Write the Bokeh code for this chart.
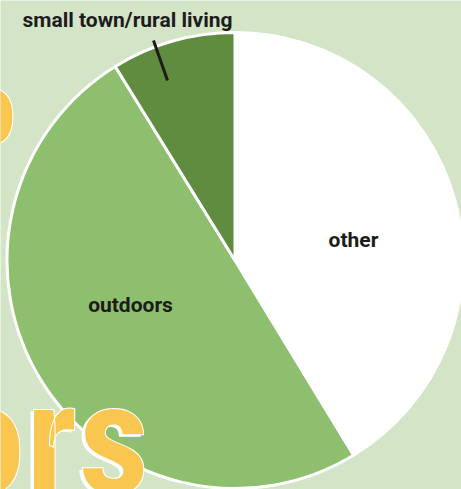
import numpy as np
from bokeh.plotting import figure
from bokeh.models import Range1d
from bokeh.core.properties import value
from bokeh.embed import file_html
from bokeh.resources import INLINE

# ---- data ----
categories = ["other", "outdoors", "small town/rural living"]
values = [41.3, 49.9, 8.8]
colors = ["#ffffff", "#8ebf6f", "#5f8c3f"]

# ---- layout constants ----
W, H = 461, 489
BG = "#d4e4c7"
YELLOW = "#f9c74f"
INK = "#1c1c1c"
cx, cy, R = 234.5, H - 260, 228
BASE_SHIFT = 0.31  # svg baseline correction (fraction of font size)

p = figure(width=W, height=H, x_range=Range1d(0, W), y_range=Range1d(0, H),
           x_axis_type=None, y_axis_type=None, output_backend="svg",
           toolbar_location=None, min_border=0)
p.grid.visible = False
p.outline_line_color = None
p.background_fill_color = BG
p.border_fill_color = BG

big_font = value("'Roboto Condensed', 'Roboto Black', Roboto, sans-serif")

def ypix(baseline_px, size):
    return H - (baseline_px - BASE_SHIFT * size)

# decorative big title fragment at top left (behind pie)
p.text(x=[16], y=[ypix(140, 104)], text=["o"], text_align="right", text_baseline="alphabetic",
       text_font=big_font, text_font_size="104px", text_font_style="bold",
       text_color=YELLOW, text_outline_color="white")

# pie
fr = np.array(values) / np.sum(values)
cum = np.concatenate([[0.0], np.cumsum(fr)])
start = np.pi / 2 - 2 * np.pi * cum[:-1]
end = np.pi / 2 - 2 * np.pi * cum[1:]
p.wedge(x=cx, y=cy, radius=R, start_angle=start, end_angle=end, direction="clock",
        fill_color=colors, line_color="white", line_width=3)

# bottom big title fragment drawn over pie
p.text(x=[146], y=[ypix(489, 158)], text=["ors"], text_align="right", text_baseline="alphabetic",
       text_font=big_font, text_font_size="158px", text_font_style="bold",
       text_color="white")
p.text(x=[149], y=[ypix(487, 158)], text=["ors"], text_align="right", text_baseline="alphabetic",
       text_font=big_font, text_font_size="158px", text_font_style="bold",
       text_color=YELLOW, text_outline_color="white")

# leader line for small slice
p.line(x=[167, 153], y=[H - 80, H - 40], line_width=3, line_color=INK)

# labels
lab_font = value("Roboto")
label_pos = [(353, 246), (130, 311), (127, 26)]
p.text(x=[q[0] for q in label_pos], y=[ypix(q[1], 21) for q in label_pos], text=categories,
       text_align="center", text_baseline="alphabetic", text_font=lab_font,
       text_font_size="21px", text_font_style="bold", text_color=INK)

open("out.html", "w").write(file_html(p, INLINE))
